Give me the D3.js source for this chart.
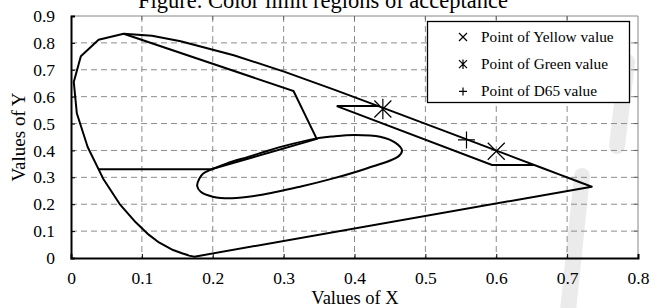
<!DOCTYPE html>
<html>
<head>
<meta charset="utf-8">
<script src="https://cdn.jsdelivr.net/npm/d3@7"></script>
<style>
  body { margin: 0; background: #fff; }
  svg { display: block; font-family: "Liberation Serif", "Times New Roman", serif; }
</style>
</head>
<body>
<div id="chart"></div>
<script>
// spectral locus, CIE 1931 (x, y)
var locusX = [0.1741, 0.1666, 0.1644, 0.1566, 0.1440, 0.1241, 0.1096, 0.0913, 0.0687, 0.0454, 0.0235, 0.0082, 0.0039, 0.0139, 0.0389, 0.0743, 0.1142, 0.1547, 0.2296, 0.3016, 0.3731, 0.4441, 0.5125, 0.5752, 0.6270, 0.6658, 0.6915, 0.7079, 0.7190, 0.7347];
var locusY = [0.0050, 0.0089, 0.0109, 0.0177, 0.0297, 0.0578, 0.0868, 0.1327, 0.2007, 0.2950, 0.4127, 0.5384, 0.6548, 0.7502, 0.8120, 0.8338, 0.8262, 0.8059, 0.7543, 0.6923, 0.6245, 0.5547, 0.4866, 0.4242, 0.3725, 0.3340, 0.3083, 0.2920, 0.2809, 0.2653];

// green limit region (edges not on the locus)
var greenX = [0.0743, 0.314, 0.3467, 0.198, 0.039];
var greenY = [0.8338, 0.621, 0.443, 0.330, 0.330];

// yellow limit region (edges not on the locus)
var yellowX = [0.4336, 0.375, 0.594, 0.6537];
var yellowY = [0.565, 0.565, 0.346, 0.346];

// closed acceptance loop
var loopX = [0.178, 0.181, 0.187, 0.200, 0.220, 0.250, 0.272, 0.300, 0.345, 0.370, 0.400, 0.436, 0.458, 0.467, 0.462, 0.418, 0.370, 0.323, 0.267, 0.227, 0.200, 0.183];
var loopY = [0.268, 0.295, 0.315, 0.331, 0.352, 0.376, 0.394, 0.416, 0.444, 0.452, 0.457, 0.451, 0.428, 0.400, 0.378, 0.334, 0.296, 0.265, 0.234, 0.222, 0.228, 0.246];

// measured points
var pointNames = ['Yellow', 'Green', 'D65'];
var pointX = [0.600, 0.440, 0.558];
var pointY = [0.397, 0.554, 0.439];

var xTicks = [0, 0.1, 0.2, 0.3, 0.4, 0.5, 0.6, 0.7, 0.8];
var yTicks = [0, 0.1, 0.2, 0.3, 0.4, 0.5, 0.6, 0.7, 0.8, 0.9];

var width = 651, height = 308;
var plotLeft = 71, plotRight = 638, plotTop = 16, plotBottom = 258;

var svg = d3.select('#chart').append('svg')
    .attr('width', width)
    .attr('height', height);

var x = d3.scaleLinear().domain([0, 0.8]).range([plotLeft, plotRight]);
var y = d3.scaleLinear().domain([0, 0.9]).range([plotBottom, plotTop]);

// faint watermark strokes
svg.append('line')
    .attr('x1', 627).attr('y1', 62).attr('x2', 617).attr('y2', 146)
    .attr('stroke', '#ebebeb').attr('stroke-width', 16).attr('stroke-linecap', 'round');
svg.append('line')
    .attr('x1', 582).attr('y1', 176).attr('x2', 566).attr('y2', 330)
    .attr('stroke', '#ebebeb').attr('stroke-width', 16).attr('stroke-linecap', 'round');

// title, mostly cut off at the top
svg.append('text')
    .attr('x', 323).attr('y', 8)
    .attr('text-anchor', 'middle')
    .attr('font-size', 22.5)
    .text('Figure. Color limit regions of acceptance');

// dashed grid
svg.append('g').selectAll('line').data(xTicks.slice(1, -1)).enter().append('line')
    .attr('x1', function (d) { return x(d); }).attr('x2', function (d) { return x(d); })
    .attr('y1', plotTop).attr('y2', plotBottom)
    .attr('stroke', '#8c8c8c').attr('stroke-dasharray', '6,4');
svg.append('g').selectAll('line').data(yTicks.slice(1, -1)).enter().append('line')
    .attr('y1', function (d) { return y(d); }).attr('y2', function (d) { return y(d); })
    .attr('x1', plotLeft).attr('x2', plotRight)
    .attr('stroke', '#8c8c8c').attr('stroke-dasharray', '6,4');

// top and right frame, grey
svg.append('path')
    .attr('d', 'M' + plotLeft + ',' + plotTop + 'H' + plotRight + 'V' + plotBottom)
    .attr('fill', 'none').attr('stroke', '#888').attr('stroke-width', 1);

// axes with inside ticks
var tickFmt = function (d) { return d === 0 ? '0' : d3.format('.1f')(d); };
var xAxis = svg.append('g')
    .attr('transform', 'translate(0,' + plotBottom + ')')
    .call(d3.axisBottom(x).tickValues(xTicks).tickSize(-4).tickPadding(14).tickFormat(tickFmt));
var yAxis = svg.append('g')
    .attr('transform', 'translate(' + plotLeft + ',0)')
    .call(d3.axisLeft(y).tickValues(yTicks).tickSize(-4).tickPadding(16).tickFormat(tickFmt));
[xAxis, yAxis].forEach(function (g) {
    g.select('.domain').attr('stroke', '#000').attr('stroke-width', 2);
    g.selectAll('.tick line').attr('stroke', '#000');
    g.selectAll('.tick text')
        .attr('font-family', '"Liberation Serif", serif')
        .attr('font-size', 17.5).attr('fill', '#000');
});
// top/right mirror ticks
svg.append('g').selectAll('line').data(xTicks.slice(1, -1)).enter().append('line')
    .attr('x1', function (d) { return x(d); }).attr('x2', function (d) { return x(d); })
    .attr('y1', plotTop).attr('y2', plotTop + 4).attr('stroke', '#666');
svg.append('g').selectAll('line').data(yTicks.slice(1, -1)).enter().append('line')
    .attr('y1', function (d) { return y(d); }).attr('y2', function (d) { return y(d); })
    .attr('x1', plotRight - 4).attr('x2', plotRight).attr('stroke', '#666');

// axis titles
svg.append('text')
    .attr('x', 355).attr('y', 304)
    .attr('text-anchor', 'middle').attr('font-size', 18.5)
    .text('Values of X');
svg.append('text')
    .attr('transform', 'translate(25,137) rotate(-90)')
    .attr('text-anchor', 'middle').attr('font-size', 19)
    .text('Values of Y');

var line = d3.line()
    .x(function (d) { return x(d[0]); })
    .y(function (d) { return y(d[1]); });
var zip = function (xs, ys) { return xs.map(function (v, i) { return [v, ys[i]]; }); };

// locus closed with the purple line
svg.append('path')
    .attr('d', line(zip(locusX, locusY)) + 'Z')
    .attr('fill', 'none').attr('stroke', '#000').attr('stroke-width', 2)
    .attr('stroke-linejoin', 'round');

svg.append('path')
    .attr('d', line(zip(greenX, greenY)))
    .attr('fill', 'none').attr('stroke', '#000').attr('stroke-width', 2);

svg.append('path')
    .attr('d', line(zip(yellowX, yellowY)))
    .attr('fill', 'none').attr('stroke', '#000').attr('stroke-width', 2);

svg.append('path')
    .attr('d', line.curve(d3.curveCatmullRomClosed)(zip(loopX, loopY)))
    .attr('fill', 'none').attr('stroke', '#000').attr('stroke-width', 2);
line.curve(d3.curveLinear);

// marker shapes, s is half width
var markerPath = function (name, s) {
    var cross = 'M' + (-s) + ',' + (-s) + 'L' + s + ',' + s + 'M' + (-s) + ',' + s + 'L' + s + ',' + (-s);
    if (name === 'Yellow') { return cross; }
    if (name === 'Green') { return cross + 'M0,' + (-s * 1.2) + 'V' + (s * 1.2); }
    return 'M' + (-s) + ',0H' + s + 'M0,' + (-s) + 'V' + s;
};

pointNames.forEach(function (name, i) {
    svg.append('path')
        .attr('transform', 'translate(' + x(pointX[i]) + ',' + y(pointY[i]) + ')')
        .attr('d', markerPath(name, 8.5))
        .attr('fill', 'none').attr('stroke', '#000').attr('stroke-width', 1.2);
});

// legend
var legend = svg.append('g');
legend.append('rect')
    .attr('x', 427.5).attr('y', 21.5).attr('width', 202).attr('height', 81)
    .attr('fill', '#fff').attr('stroke', '#000').attr('stroke-width', 1.3);
pointNames.forEach(function (name, i) {
    var cy = 37 + i * 27.2;
    legend.append('path')
        .attr('transform', 'translate(463,' + cy + ')')
        .attr('d', markerPath(name, 4))
        .attr('fill', 'none').attr('stroke', '#000').attr('stroke-width', 1.2);
    legend.append('text')
        .attr('x', 481).attr('y', cy + 5)
        .attr('font-size', 15.3)
        .text('Point of ' + name + ' value');
});
</script>
</body>
</html>
